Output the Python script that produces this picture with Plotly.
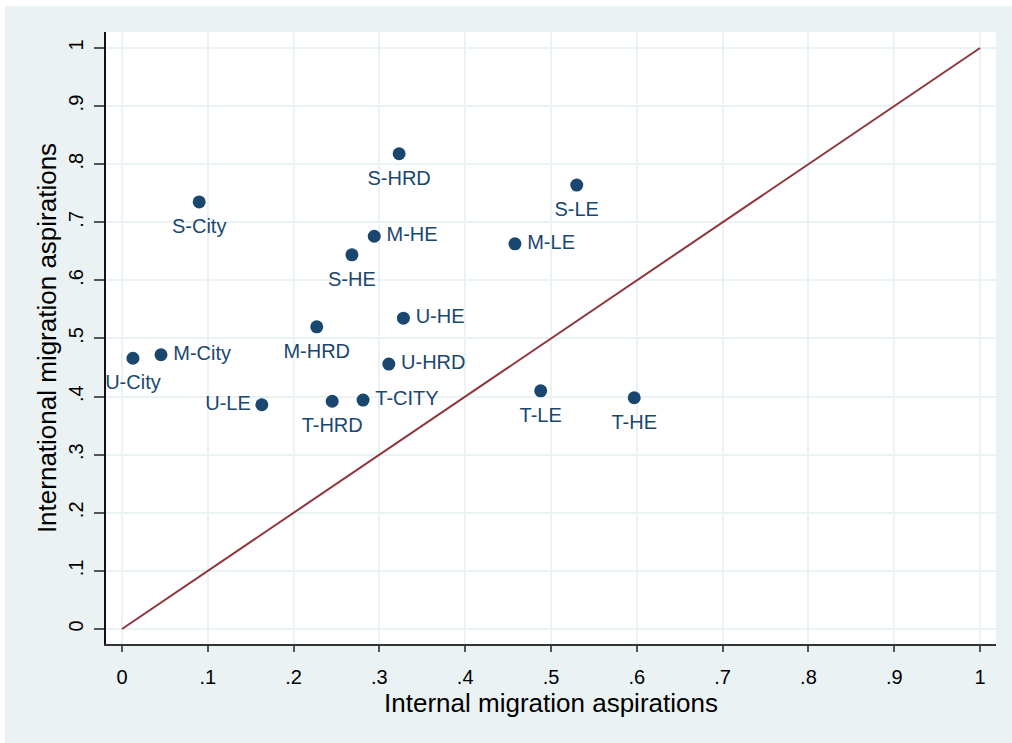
import plotly.graph_objects as go

labels = ["S-HRD", "S-LE", "S-City", "M-HE", "M-LE", "S-HE", "U-HE", "M-HRD",
          "M-City", "U-City", "U-HRD", "T-LE", "T-HE", "U-LE", "T-HRD", "T-CITY"]
internal = [0.323, 0.530, 0.090, 0.294, 0.458, 0.268, 0.328, 0.227,
            0.0455, 0.0128, 0.311, 0.488, 0.597, 0.163, 0.245, 0.281]
international = [0.818, 0.764, 0.735, 0.676, 0.663, 0.644, 0.535, 0.520,
                 0.472, 0.466, 0.456, 0.410, 0.398, 0.386, 0.392, 0.394]
label_pos = ["bottom center", "bottom center", "bottom center", "middle right",
             "middle right", "bottom center", "middle right", "bottom center",
             "middle right", "bottom center", "middle right", "bottom center",
             "bottom center", "middle left", "bottom center", "middle right"]
diag_x = [0, 1]
diag_y = [0, 1]
tick_vals = [0, 0.1, 0.2, 0.3, 0.4, 0.5, 0.6, 0.7, 0.8, 0.9, 1]
tick_text = ["0", ".1", ".2", ".3", ".4", ".5", ".6", ".7", ".8", ".9", "1"]

navy = "#1a476f"
bg = "#EAF2F3"
font = "Liberation Sans, Arial, sans-serif"

# label gap (invisible marker size that sets the text offset) per placement
gap = {"bottom center": 24, "middle right": 18, "middle left": 16}
label_gap = [gap[p] for p in label_pos]

fig = go.Figure()
fig.add_trace(go.Scatter(x=diag_x, y=diag_y, mode="lines",
                         line=dict(color="#90353b", width=2), hoverinfo="skip",
                         showlegend=False))
fig.add_trace(go.Scatter(x=internal, y=international, mode="markers+text",
                         text=labels, textposition=label_pos,
                         textfont=dict(family=font, size=20, color=navy),
                         marker=dict(color="rgba(0,0,0,0)", size=label_gap,
                                     line=dict(width=0)),
                         hoverinfo="skip", showlegend=False))
fig.add_trace(go.Scatter(x=internal, y=international, mode="markers",
                         marker=dict(color=navy, size=13, line=dict(width=0)),
                         text=labels, showlegend=False))

EXTRA = 12
W, H = 1012 + EXTRA, 743 + EXTRA
L, R, T, B = 106, 16 + EXTRA, 32, 99 + EXTRA
pw, ph = W - L - R, H - T - B

fig.update_layout(
    width=W, height=H,
    margin=dict(l=L, r=R, t=T, b=B),
    paper_bgcolor=bg,
    plot_bgcolor="white",
    font=dict(family=font, size=20, color="black"),
    shapes=[
        dict(type="rect", xref="paper", yref="paper", layer="below",
             x0=-L / pw, x1=(W - L) / pw, y0=(H - 6 - B) / ph, y1=(H - B) / ph,
             fillcolor="white", line=dict(width=0)),
        dict(type="rect", xref="paper", yref="paper", layer="below",
             x0=-L / pw, x1=(5 - L) / pw, y0=-B / ph, y1=(H - B) / ph,
             fillcolor="white", line=dict(width=0)),
    ],
    xaxis=dict(range=[-0.0186, 1.0186], tickvals=tick_vals, ticktext=tick_text,
               showgrid=True, gridcolor=bg, gridwidth=2, zeroline=False,
               showline=True, linecolor="#333333", linewidth=2,
               ticks="outside", ticklen=6, tickcolor="#555555", tickwidth=1.5,
               ticklabelstandoff=8,
               tickfont=dict(size=20, color="black"),
               title=dict(text="Internal migration aspirations", standoff=0,
                          font=dict(size=26, color="black"))),
    yaxis=dict(range=[-0.0258, 1.0275], tickvals=tick_vals, ticktext=tick_text,
               showgrid=True, gridcolor=bg, gridwidth=2, zeroline=False,
               showline=True, linecolor="#111111", linewidth=2,
               ticks="outside", ticklen=10, tickcolor="#555555", tickwidth=1.5,
               ticklabelstandoff=3,
               tickangle=-90, tickfont=dict(size=20, color="black"),
               title=dict(text="International migration aspirations", standoff=1,
                          font=dict(size=26, color="black"))),
)

fig.write_html("out.html", config={"displayModeBar": False},
               post_script="document.body.style.margin='0';"
                           "document.body.style.overflow='hidden';"
                           "document.documentElement.style.overflow='hidden';"
                           "document.body.style.background='#EAF2F3';"
                           "document.documentElement.style.background='#EAF2F3';")
